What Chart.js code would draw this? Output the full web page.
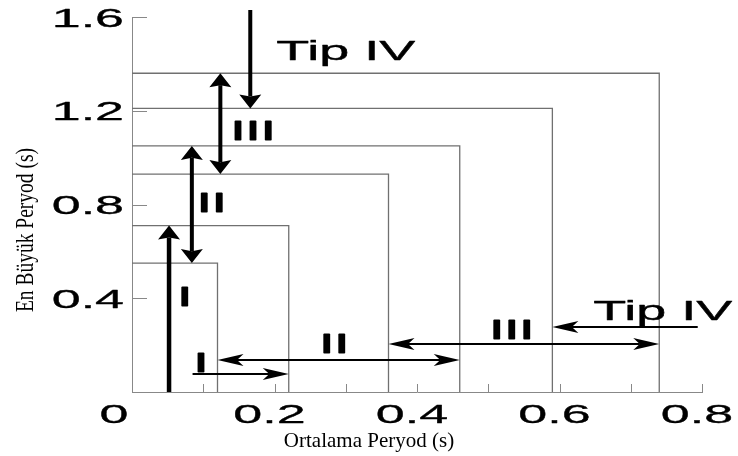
<!DOCTYPE html>
<html>
<head>
<meta charset="utf-8">
<script src="https://cdn.jsdelivr.net/npm/chart.js@4.4.0/dist/chart.umd.min.js"></script>
<style>
  body { margin: 0; background: #fff; }
  #wrap { width: 738px; height: 456px; }
</style>
</head>
<body>
<div id="wrap"><canvas id="periodChart"></canvas></div>
<script>
// corners of the nested period boxes: mean period (x) and max period (y)
const boxMeanPeriod = [0.12, 0.22, 0.36, 0.46, 0.59, 0.74];
const boxMaxPeriod = [0.55, 0.71, 0.93, 1.05, 1.21, 1.36];

// arrows along the max period axis
const vArrowX = [0.052, 0.084, 0.124, 0.166];
const vArrowFrom = [0, 0.55, 0.93, 1.63];
const vArrowTo = [0.71, 1.05, 1.36, 1.21];
const vArrowBoth = [false, true, true, false];

// arrows along the mean period axis
const hArrowY = [0.077, 0.137, 0.205, 0.277];
const hArrowFrom = [0.085, 0.12, 0.36, 0.794];
const hArrowTo = [0.22, 0.46, 0.74, 0.59];
const hArrowBoth = [false, true, true, false];

const typeNames = ["I", "II", "III", "Tip IV"];

const xTickValues = [0, 0.2, 0.4, 0.6, 0.8];
const xTickLabels = ["0", "0.2", "0.4", "0.6", "0.8"];
const yTickValues = [0.4, 0.8, 1.2, 1.6];
const yTickLabels = ["0.4", "0.8", "1.2", "1.6"];

const sans = '"Liberation Sans", Arial, sans-serif';
const serif = '"Liberation Serif", "Times New Roman", serif';

// text drawn twice as wide as the font normally is, with a light outline to thicken it
function wideText(ctx, text, x, y, font, align, weight) {
    ctx.save();
    ctx.translate(x, y);
    ctx.scale(2, 1);
    ctx.font = font;
    ctx.textAlign = align;
    ctx.textBaseline = "alphabetic";
    ctx.fillStyle = "#000";
    ctx.fillText(text, 0, 0);
    if (weight) {
        ctx.strokeStyle = "#000";
        ctx.lineWidth = weight;
        ctx.lineJoin = "round";
        ctx.strokeText(text, 0, 0);
    }
    ctx.restore();
}

function arrowHead(ctx, x, y, angle, len, half, notch) {
    ctx.save();
    ctx.translate(x, y);
    ctx.rotate(angle);
    ctx.beginPath();
    ctx.moveTo(0, 0);
    ctx.lineTo(-len, -half);
    ctx.lineTo(-len * notch, 0);
    ctx.lineTo(-len, half);
    ctx.closePath();
    ctx.fill();
    ctx.restore();
}

const arrowPlugin = {
    id: "arrows",
    afterDatasetsDraw(chart) {
        const ctx = chart.ctx;
        const xs = chart.scales.x, ys = chart.scales.y;
        ctx.save();
        ctx.fillStyle = "#000";
        ctx.strokeStyle = "#000";
        ctx.lineCap = "butt";

        // vertical
        const vl = 14, vh = 11, vn = 0.85;
        vArrowX.forEach((v, i) => {
            const px = xs.getPixelForValue(v);
            const p0 = ys.getPixelForValue(vArrowFrom[i]);
            const p1 = ys.getPixelForValue(vArrowTo[i]);
            const dir = Math.sign(p1 - p0);
            const s0 = vArrowBoth[i] ? p0 + dir * vl * vn : p0;
            const s1 = p1 - dir * vl * vn;
            ctx.lineWidth = i === 0 ? 4.5 : 4;
            ctx.beginPath();
            ctx.moveTo(px, s0);
            ctx.lineTo(px, s1);
            ctx.stroke();
            arrowHead(ctx, px, p1, dir > 0 ? Math.PI / 2 : -Math.PI / 2, vl, vh, vn);
            if (vArrowBoth[i]) arrowHead(ctx, px, p0, dir > 0 ? -Math.PI / 2 : Math.PI / 2, vl, vh, vn);
        });

        // horizontal
        const hl = 26, hh = 6, hn = 0.75;
        hArrowY.forEach((v, i) => {
            const py = ys.getPixelForValue(v);
            const p0 = xs.getPixelForValue(hArrowFrom[i]);
            const p1 = xs.getPixelForValue(hArrowTo[i]);
            const dir = Math.sign(p1 - p0);
            const s0 = hArrowBoth[i] ? p0 + dir * hl * hn : p0;
            const s1 = p1 - dir * hl * hn;
            ctx.lineWidth = 2;
            ctx.beginPath();
            ctx.moveTo(s0, py);
            ctx.lineTo(s1, py);
            ctx.stroke();
            arrowHead(ctx, p1, py, dir > 0 ? 0 : Math.PI, hl, hh, hn);
            if (hArrowBoth[i]) arrowHead(ctx, p0, py, dir > 0 ? Math.PI : 0, hl, hh, hn);
        });
        ctx.restore();
    },
    afterDraw(chart) {
        const ctx = chart.ctx;
        const xs = chart.scales.x, ys = chart.scales.y;
        const area = chart.chartArea;

        // inward tick marks
        ctx.save();
        ctx.strokeStyle = "#888";
        ctx.lineWidth = 1;
        ctx.beginPath();
        xs.ticks.forEach(t => {
            const px = Math.round(xs.getPixelForValue(t.value)) + 0.5;
            ctx.moveTo(px, area.bottom);
            ctx.lineTo(px, area.bottom - 8);
        });
        ys.ticks.forEach(t => {
            const py = Math.round(ys.getPixelForValue(t.value)) + 0.5;
            ctx.moveTo(area.left, py);
            ctx.lineTo(area.left + 15, py);
        });
        ctx.stroke();
        ctx.restore();

        // tick labels
        const tickFont = "26px " + sans;
        xTickValues.forEach((v, i) => {
            const shift = v === 0 ? -18 : -5;
            wideText(ctx, xTickLabels[i], xs.getPixelForValue(v) + shift, area.bottom + 31, tickFont, "center", 0.3);
        });
        yTickValues.forEach((v, i) => {
            wideText(ctx, yTickLabels[i], area.left - 8, ys.getPixelForValue(v) + 9.5, tickFont, "right", 0.3);
        });

        // type labels beside the arrows
        const vLabels = [[0.074, 0.41], [0.112, 0.81], [0.170, 1.12], [0.30, 1.46]];
        const hLabels = [[0.097, 0.13], [0.284, 0.209], [0.533, 0.27], [0.745, 0.35]];
        [vLabels, hLabels].forEach(set => {
            set.forEach((p, i) => {
                const weight = i < 3 ? 0.9 : 0.4;
                wideText(ctx, typeNames[i], xs.getPixelForValue(p[0]), ys.getPixelForValue(p[1]) + 10, "27px " + sans, "center", weight);
            });
        });

        // axis titles
        ctx.save();
        ctx.fillStyle = "#000";
        ctx.font = "21px " + serif;
        ctx.textAlign = "center";
        ctx.textBaseline = "alphabetic";
        ctx.fillText("Ortalama Peryod (s)", chart.width / 2, 447);
        ctx.restore();

        ctx.save();
        ctx.translate(33, chart.height / 2 + 2);
        ctx.rotate(-Math.PI / 2);
        ctx.scale(0.75, 1);
        ctx.fillStyle = "#000";
        ctx.font = "26px " + serif;
        ctx.textAlign = "center";
        ctx.textBaseline = "alphabetic";
        ctx.fillText("En Büyük Peryod (s)", 0, 0);
        ctx.restore();
    }
};

const boxDatasets = boxMeanPeriod.map((x, i) => ({
    data: [{ x: 0, y: boxMaxPeriod[i] }, { x: x, y: boxMaxPeriod[i] }, { x: x, y: 0 }],
    showLine: true,
    borderColor: "#707070",
    borderWidth: 1.3,
    pointRadius: 0,
    tension: 0,
    fill: false
}));

const ctx = document.getElementById("periodChart").getContext("2d");
new Chart(ctx, {
    type: "scatter",
    data: { datasets: boxDatasets },
    options: {
        responsive: true,
        maintainAspectRatio: false,
        animation: false,
        layout: { padding: { left: 124, right: 36, top: 17, bottom: 56 } },
        plugins: { legend: { display: false }, tooltip: { enabled: false } },
        scales: {
            x: {
                type: "linear", min: 0, max: 0.8,
                ticks: { display: false, stepSize: 0.1 },
                grid: { display: false },
                border: { color: "#888", width: 1 }
            },
            y: {
                type: "linear", min: 0, max: 1.6,
                ticks: { display: false, stepSize: 0.4 },
                grid: { display: false },
                border: { color: "#888", width: 1 }
            }
        }
    },
    plugins: [arrowPlugin]
});
</script>
</body>
</html>
